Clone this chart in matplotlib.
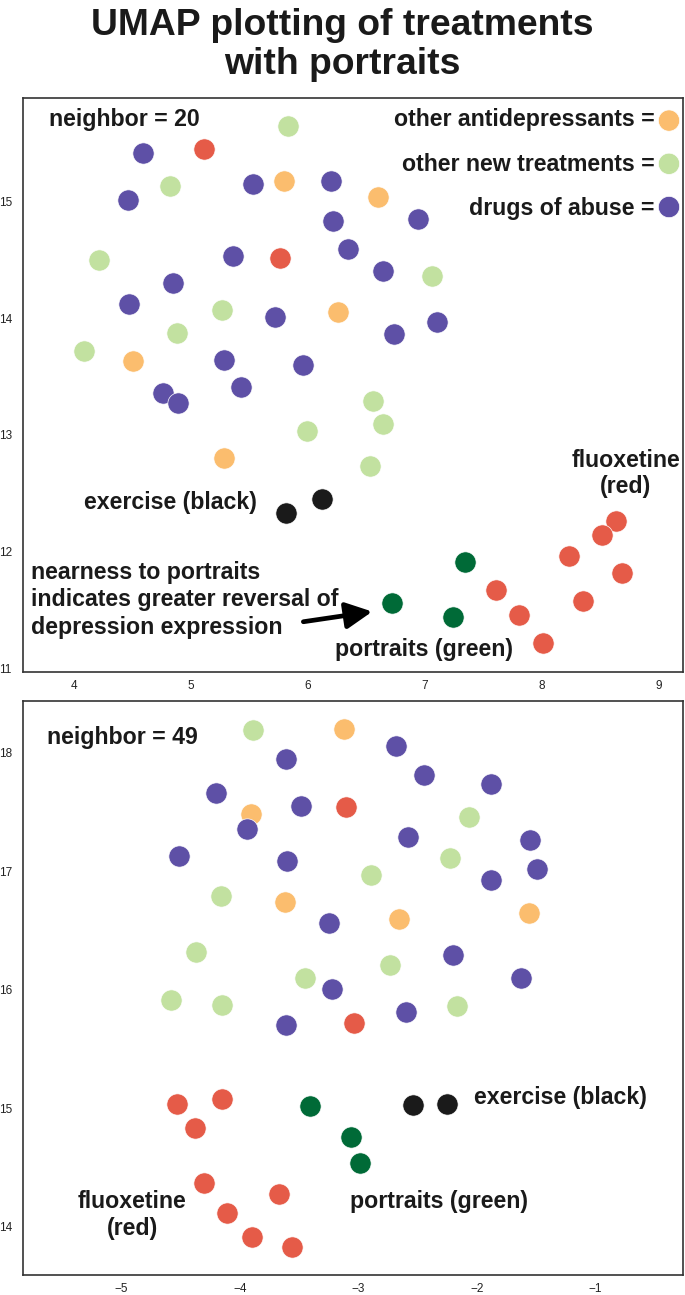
import numpy as np
import matplotlib
matplotlib.use("Agg")
import matplotlib.pyplot as plt

plt.rcParams['font.family'] = ['Liberation Sans', 'DejaVu Sans']

# colours
c_orange = '#fbbd6e'
c_lgreen = '#c2e1a0'
c_purple = '#5e50a6'
c_red = '#e55b48'
c_dgreen = '#006a37'
c_black = '#1a1a1a'

# ---- neighbor = 20 ----
top_orange_x = [5.79, 6.60, 6.26, 4.50, 5.28]
top_orange_y = [15.17, 15.04, 14.05, 13.63, 12.80]
top_lgreen_x = [5.83, 4.82, 4.21, 7.06, 5.26, 4.88, 4.08, 6.56, 6.64, 5.99, 6.53]
top_lgreen_y = [15.64, 15.13, 14.50, 14.36, 14.07, 13.87, 13.72, 13.29, 13.09, 13.03, 12.73]
top_purple_x = [4.59, 5.53, 6.20, 4.46, 6.21, 6.94, 5.36, 6.34, 6.64, 4.84,
                4.47, 5.72, 7.10, 6.74, 5.28, 5.96, 4.76, 5.43, 4.89]
top_purple_y = [15.41, 15.15, 15.17, 15.01, 14.83, 14.85, 14.53, 14.59, 14.40, 14.30,
                14.12, 14.01, 13.97, 13.86, 13.64, 13.60, 13.36, 13.41, 13.27]
top_red_x = [5.11, 5.76, 8.64, 8.52, 8.23, 8.69, 8.35, 7.61, 7.81, 8.01]
top_red_y = [15.45, 14.51, 12.26, 12.14, 11.96, 11.82, 11.58, 11.67, 11.46, 11.22]
top_dgreen_x = [7.34, 6.72, 7.24]
top_dgreen_y = [11.91, 11.56, 11.44]
top_black_x = [6.12, 5.81]
top_black_y = [12.45, 12.33]

# ---- neighbor = 49 ----
bot_orange_x = [-3.12, -3.91, -3.62, -2.66, -1.56]
bot_orange_y = [18.20, 17.48, 16.74, 16.60, 16.65]
bot_lgreen_x = [-3.89, -2.07, -2.23, -2.89, -4.16, -4.37, -2.73, -3.45, -4.58, -4.15, -2.17]
bot_lgreen_y = [18.19, 17.46, 17.11, 16.97, 16.79, 16.32, 16.21, 16.10, 15.91, 15.87, 15.86]
bot_purple_x = [-2.68, -3.61, -2.45, -1.88, -4.20, -3.48, -3.94, -2.58, -1.55, -4.51,
                -3.60, -1.49, -1.88, -3.25, -2.20, -1.63, -3.22, -2.60, -3.61]
bot_purple_y = [18.06, 17.95, 17.81, 17.74, 17.66, 17.55, 17.36, 17.29, 17.26, 17.13,
                17.09, 17.02, 16.93, 16.56, 16.29, 16.10, 16.01, 15.81, 15.70]
bot_red_x = [-3.10, -3.04, -4.53, -4.15, -4.38, -4.30, -3.67, -4.11, -3.90, -3.56]
bot_red_y = [17.54, 15.72, 15.04, 15.08, 14.83, 14.37, 14.28, 14.12, 13.91, 13.83]
bot_dgreen_x = [-3.41, -3.06, -2.99]
bot_dgreen_y = [15.02, 14.76, 14.54]
bot_black_x = [-2.54, -2.25]
bot_black_y = [15.03, 15.04]

legend_labels = ['other antidepressants =', 'other new treatments =', 'drugs of abuse =']
legend_colors = [c_orange, c_lgreen, c_purple]
legend_y = [15.69, 15.32, 14.95]
legend_text_y = [15.644, 15.262, 14.883]

top_xticks = [4, 5, 6, 7, 8, 9]
top_yticks = [11, 12, 13, 14, 15]
bot_xticks = [-5, -4, -3, -2, -1]
bot_yticks = [14, 15, 16, 17, 18]

S = 235
fs = 16.7

fig = plt.figure(figsize=(6.85, 12.95), dpi=100)
ax1 = fig.add_axes([0.0336, 0.4811, 0.9635, 0.4432])
ax2 = fig.add_axes([0.0336, 0.0154, 0.9635, 0.4433])

def draw(ax, groups):
    for xs, ys, col in groups:
        ax.scatter(xs, ys, s=S, c=col, edgecolors='white', linewidths=0.5, zorder=3)

draw(ax1, [(top_orange_x, top_orange_y, c_orange),
           (top_lgreen_x, top_lgreen_y, c_lgreen),
           (top_purple_x, top_purple_y, c_purple),
           (top_red_x, top_red_y, c_red),
           (top_dgreen_x, top_dgreen_y, c_dgreen),
           (top_black_x, top_black_y, c_black)])
draw(ax2, [(bot_orange_x, bot_orange_y, c_orange),
           (bot_lgreen_x, bot_lgreen_y, c_lgreen),
           (bot_purple_x, bot_purple_y, c_purple),
           (bot_red_x, bot_red_y, c_red),
           (bot_dgreen_x, bot_dgreen_y, c_dgreen),
           (bot_black_x, bot_black_y, c_black)])

# legend-ish markers drawn as points
ax1.scatter([9.09] * 3, legend_y, s=S, c=legend_colors, edgecolors='white', linewidths=0.5, zorder=3)

tkw = dict(fontsize=fs, fontweight='bold', color='#1a1a1a', va='baseline')
for lab, yy in zip(legend_labels, legend_text_y):
    ax1.text(8.97, yy, lab, ha='right', **tkw)

ax1.text(3.78, 15.644, 'neighbor = 20', ha='left', **tkw)
ax1.text(4.82, 12.368, 'exercise (black)', ha='center', **tkw)
ax1.text(8.72, 12.727, 'fluoxetine', ha='center', **tkw)
ax1.text(8.72, 12.505, '(red)', ha='center', **tkw)
for line, yy in zip(['nearness to portraits', 'indicates greater reversal of', 'depression expression'],
                    [11.769, 11.535, 11.293]):
    ax1.text(3.63, yy, line, ha='left', **tkw)
ax1.text(6.99, 11.108, 'portraits (green)', ha='center', **tkw)
ax1.annotate('', xy=(6.55, 11.487), xytext=(5.96, 11.40),
             arrowprops=dict(arrowstyle='-|>,head_length=0.8,head_width=0.4', lw=3.4,
                             color='black', mutation_scale=20, shrinkA=0, shrinkB=0))

ax2.text(-5.624, 18.071, 'neighbor = 49', ha='left', **tkw)
ax2.text(-2.02, 15.04, 'exercise (black)', ha='left', **tkw)
ax2.text(-4.91, 14.16, 'fluoxetine', ha='center', **tkw)
ax2.text(-4.91, 13.935, '(red)', ha='center', **tkw)
ax2.text(-2.32, 14.16, 'portraits (green)', ha='center', **tkw)

ax1.set_xlim(3.56, 9.21)
ax1.set_ylim(10.97, 15.883)
ax2.set_xlim(-5.83, -0.26)
ax2.set_ylim(13.593, 18.437)

for ax, xt, yt in [(ax1, top_xticks, top_yticks), (ax2, bot_xticks, bot_yticks)]:
    ax.set_xticks(xt)
    ax.set_yticks(yt)
    ax.tick_params(length=0, labelsize=8.5, labelcolor='#222222')
    ax.tick_params(axis='x', pad=5.5)
    ax.tick_params(axis='y', pad=8)
    for sp in ax.spines.values():
        sp.set_color('#333333')
        sp.set_linewidth(1.2)

fig.text(0.5, 0.973, 'UMAP plotting of treatments', ha='center', va='baseline',
         fontsize=26.8, fontweight='bold', color='#1a1a1a')
fig.text(0.5, 0.9429, 'with portraits', ha='center', va='baseline',
         fontsize=26.8, fontweight='bold', color='#1a1a1a')

fig.savefig('out.png', dpi=100)
